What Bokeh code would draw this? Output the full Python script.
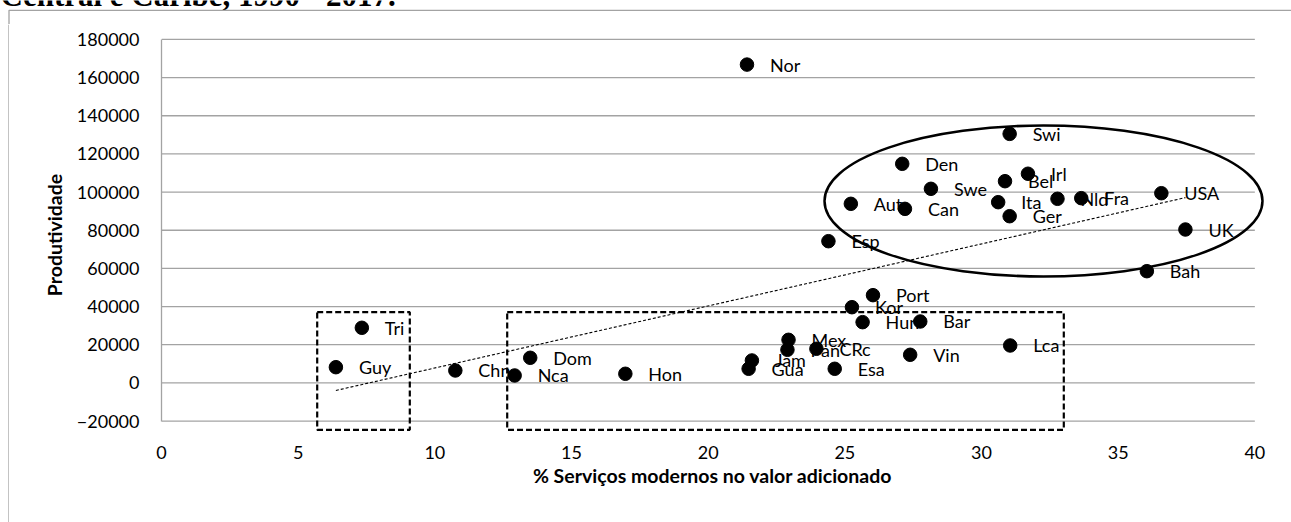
import numpy as np
from bokeh.plotting import figure
from bokeh.layouts import column, row
from bokeh.models import Range1d, FixedTicker, BasicTickFormatter
from bokeh.core.properties import value
from bokeh.embed import file_html
from bokeh.resources import INLINE

# ---------------- data ----------------
countries = ["Nor", "Swi", "Den", "Bel", "Irl", "Swe", "Aut", "Can", "Ita", "Ger",
             "Nld", "Fra", "USA", "UK", "Esp", "Bah", "Port", "Kor", "Hun", "Bar",
             "Mex", "Pan", "CRc", "Jam", "Gua", "Esa", "Vin", "Lca", "Tri", "Guy",
             "Chn", "Nca", "Dom", "Hon"]
servicos_pct = [21.42, 31.03, 27.10, 30.86, 31.70, 28.15, 25.22, 27.20, 30.61, 31.03,
                32.78, 33.65, 36.58, 37.46, 24.40, 36.05, 26.03, 25.26, 25.65, 27.76,
                22.94, 22.90, 23.96, 21.60, 21.48, 24.63, 27.39, 31.05, 7.33, 6.38,
                10.75, 12.92, 13.49, 16.97]
produtividade = [166800, 130500, 114800, 105700, 109600, 101700, 93840, 91200, 94700, 87350,
                 96470, 96800, 99400, 80380, 74250, 58540, 45970, 39670, 31820, 32170,
                 22570, 17340, 17870, 11740, 7390, 7390, 14720, 19600, 28870, 8230,
                 6500, 3880, 13150, 4770]
y_ticks = [-20000, 0, 20000, 40000, 60000, 80000, 100000, 120000, 140000, 160000, 180000]
x_ticks = [0, 5, 10, 15, 20, 25, 30, 35, 40]

title_text = "Central e Caribe, 1990 - 2017."
x_label = "%  Serviços modernos no valor adicionado"
y_label = "Produtividade"

# ---------------- layout (picture pixel positions) ----------------
PAGE_W, PAGE_H = 1291, 522
TOP_H = 24          # strip: (cut) document title, top border and start of left border
LEFT_W = 9          # strip holding the chart's left border
W, H = PAGE_W - LEFT_W, PAGE_H - TOP_H
OX, OY = LEFT_W, TOP_H  # page position of the main figure
FR_L, FR_T, FR_W, FR_H = 161 - OX, 37 - OY, 1107, 395
X0, X1 = 0, 40.5
Y0, Y1 = -26000, 181000
GRID = "#a3a3a3"
FONT = "Lato"


def px_x(px):
    return X0 + (px - OX - FR_L) * (X1 - X0) / FR_W


def px_y(py):
    return Y1 - (py - OY - FR_T) * (Y1 - Y0) / FR_H


def strip(w, h):
    f = figure(width=w, height=h, x_range=Range1d(0, w), y_range=Range1d(h, 0),
               output_backend="svg", toolbar_location=None,
               x_axis_type=None, y_axis_type=None, frame_align=False,
               min_border=0, min_border_left=0, min_border_right=0,
               min_border_top=0, min_border_bottom=0)
    f.outline_line_color = None
    f.xgrid.visible = False
    f.ygrid.visible = False
    f.background_fill_color = "white"
    f.border_fill_color = "white"
    return f


# top strip: bottom of the document title (cut by the page top) + chart border
top = strip(PAGE_W, TOP_H)
top.text(x=[0], y=[-5], text=[title_text], text_font=value("Liberation Serif"),
         text_font_style="bold", text_font_size="31px", text_baseline="alphabetic",
         text_align="left", text_color="black")
top.line(x=[8.5, 8.5, PAGE_W], y=[TOP_H, 9.8, 9.8], line_color=GRID, line_width=1.3)

# left strip: left border of the chart area
left = strip(LEFT_W, H)
left.line(x=[8.5, 8.5], y=[0, H], line_color=GRID, line_width=1.3)

# main chart
p = figure(width=W, height=H, x_range=Range1d(X0, X1), y_range=Range1d(Y0, Y1),
           output_backend="svg", toolbar_location=None, frame_align=False,
           min_border_left=FR_L, min_border_right=W - FR_L - FR_W,
           min_border_top=FR_T, min_border_bottom=H - FR_T - FR_H)
p.xgrid.visible = False
p.ygrid.visible = False
p.outline_line_color = None
p.background_fill_color = "white"
p.border_fill_color = "white"

# gridlines (only across 0..40)
p.segment(x0=[x_ticks[0]] * len(y_ticks), x1=[x_ticks[-1]] * len(y_ticks),
          y0=y_ticks, y1=y_ticks, line_color=GRID, line_width=1.3)

# axes
yax = p.yaxis[0]
yax.ticker = FixedTicker(ticks=y_ticks)
yax.formatter = BasicTickFormatter(use_scientific=False)
yax.bounds = (y_ticks[0], y_ticks[-1])
yax.axis_line_color = GRID
yax.axis_line_width = 1.3
yax.major_tick_line_color = None
yax.minor_tick_line_color = None
yax.major_label_standoff = 16
yax.major_label_text_font = FONT
yax.major_label_text_font_size = "18px"
yax.major_label_text_color = "black"
yax.axis_label = y_label
yax.axis_label_text_font = FONT
yax.axis_label_text_font_style = "bold"
yax.axis_label_text_font_size = "19.5px"
yax.axis_label_text_color = "black"
yax.axis_label_standoff = 8

xax = p.xaxis[0]
xax.ticker = FixedTicker(ticks=x_ticks)
xax.axis_line_color = None
xax.major_tick_line_color = None
xax.minor_tick_line_color = None
xax.major_label_standoff = 7
xax.major_label_text_font = FONT
xax.major_label_text_font_size = "18px"
xax.major_label_text_color = "black"
xax.axis_label = x_label
xax.axis_label_text_font = FONT
xax.axis_label_text_font_style = "bold"
xax.axis_label_text_font_size = "19.5px"
xax.axis_label_text_color = "black"
xax.axis_label_standoff = 2

# annotations: highlight boxes and ellipse
p.quad(left=[px_x(316.7), px_x(506.7)], right=[px_x(409.3), px_x(1063.3)],
       top=[px_y(311.7)] * 2, bottom=[px_y(429.3)] * 2,
       fill_color=None, line_color="black", line_width=2.2, line_dash="6 3")
p.ellipse(x=[px_x(1043)], y=[px_y(200.5)],
          width=[438 * (X1 - X0) / FR_W], height=[151 * (Y1 - Y0) / FR_H],
          fill_color=None, line_color="black", line_width=2.5)

# linear trend line
coef = np.polyfit(servicos_pct, produtividade, 1)
tx = [min(servicos_pct), max(servicos_pct)]
ty = list(np.polyval(coef, tx))
p.line(tx, ty, line_color="black", line_width=1.1, line_dash="3 2")

# labels then points
p.text(x=servicos_pct, y=produtividade, text=countries, x_offset=23,
       text_baseline="middle", text_align="left", text_font=value(FONT),
       text_font_size="18px", text_color="black")
p.scatter(x=servicos_pct, y=produtividade, size=13.5, color="black")

page = column(top, row(left, p, spacing=0), spacing=0)

open("out.html", "w").write(file_html(page, INLINE))
